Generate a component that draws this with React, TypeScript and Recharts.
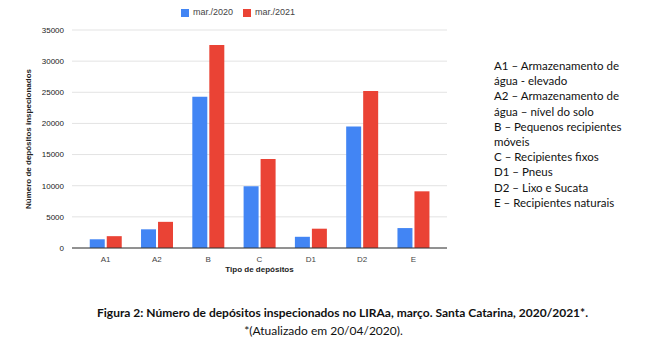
import { BarChart, Bar, XAxis, YAxis, CartesianGrid, Legend } from 'recharts';

const categories = ['A1', 'A2', 'B', 'C', 'D1', 'D2', 'E'];
const mar2020 = [1400, 3000, 24300, 9900, 1800, 19500, 3200];
const mar2021 = [1900, 4200, 32600, 14300, 3100, 25200, 9100];
const yTicks = [0, 5000, 10000, 15000, 20000, 25000, 30000, 35000];

const descriptions = [
  'A1 – Armazenamento de',
  'água - elevado',
  'A2 – Armazenamento de',
  'água – nível do solo',
  'B – Pequenos recipientes',
  'móveis',
  'C – Recipientes fixos',
  'D1 – Pneus',
  'D2 – Lixo e Sucata',
  'E – Recipientes naturais',
];

const data = categories.map((c, i) => ({ name: c, a: mar2020[i], b: mar2021[i] }));

const sans = '"Liberation Sans", Arial, sans-serif';
const doc = 'Lato, "Open Sans", sans-serif';

export default function App() {
  return (
    <div style={{ position: 'absolute', left: 0, top: 0, width: 664, height: 343, background: '#fff', fontFamily: sans }}>
      <div style={{ position: 'absolute', left: 0, top: 0 }}>
        <BarChart
          width={460}
          height={280}
          data={data}
          margin={{ top: 20, right: 13, left: 12, bottom: 0 }}
          barCategoryGap="19%"
          barGap={2}
        >
          <CartesianGrid vertical={false} stroke="#e3e3e3" />
          <XAxis
            dataKey="name"
            height={32}
            padding={{ left: 8, right: 8 }}
            tickLine={false}
            axisLine={{ stroke: '#333' }}
            tick={{ fontSize: 8, fill: '#444', fontFamily: sans }}
            label={{
              value: 'Tipo de depósitos',
              position: 'insideBottom',
              offset: 8,
              style: { fontSize: 8, fontWeight: 'bold', fill: '#222', fontFamily: sans },
            }}
          />
          <YAxis
            width={60}
            domain={[0, 35000]}
            ticks={yTicks}
            interval={0}
            tickLine={false}
            axisLine={false}
            tick={{ fontSize: 8, fill: '#222', fontFamily: sans }}
            label={{
              value: 'Número de depósitos inspecionados',
              angle: -90,
              position: 'insideLeft',
              offset: 16,
              style: { textAnchor: 'middle', fontSize: 8, fontWeight: 'bold', fill: '#222', fontFamily: sans },
            }}
          />
          <Legend
            verticalAlign="top"
            align="left"
            iconType="square"
            iconSize={8}
            wrapperStyle={{ top: 7, left: 181, width: 140, fontSize: 9, fontFamily: sans }}
            formatter={(v) => <span style={{ color: '#444' }}>{v}</span>}
          />
          <Bar dataKey="a" name="mar./2020" fill="#4285F4" isAnimationActive={false} />
          <Bar dataKey="b" name="mar./2021" fill="#EA4335" isAnimationActive={false} />
        </BarChart>
      </div>
      <div style={{ position: 'absolute', left: 494, top: 58, fontFamily: doc, fontSize: 11.5, lineHeight: '15.2px', color: '#111' }}>
        {descriptions.map((d) => (
          <div key={d}>{d}</div>
        ))}
      </div>
      <div style={{ position: 'absolute', left: 0, width: 685, top: 305, textAlign: 'center', fontFamily: doc, fontSize: 12, fontWeight: 'bold', color: '#111' }}>
        Figura 2: Número de depósitos inspecionados no LIRAa, março. Santa Catarina, 2020/2021*.
      </div>
      <div style={{ position: 'absolute', left: 0, width: 647, top: 323, textAlign: 'center', fontFamily: doc, fontSize: 12, color: '#111' }}>
        *(Atualizado em 20/04/2020).
      </div>
    </div>
  );
}
